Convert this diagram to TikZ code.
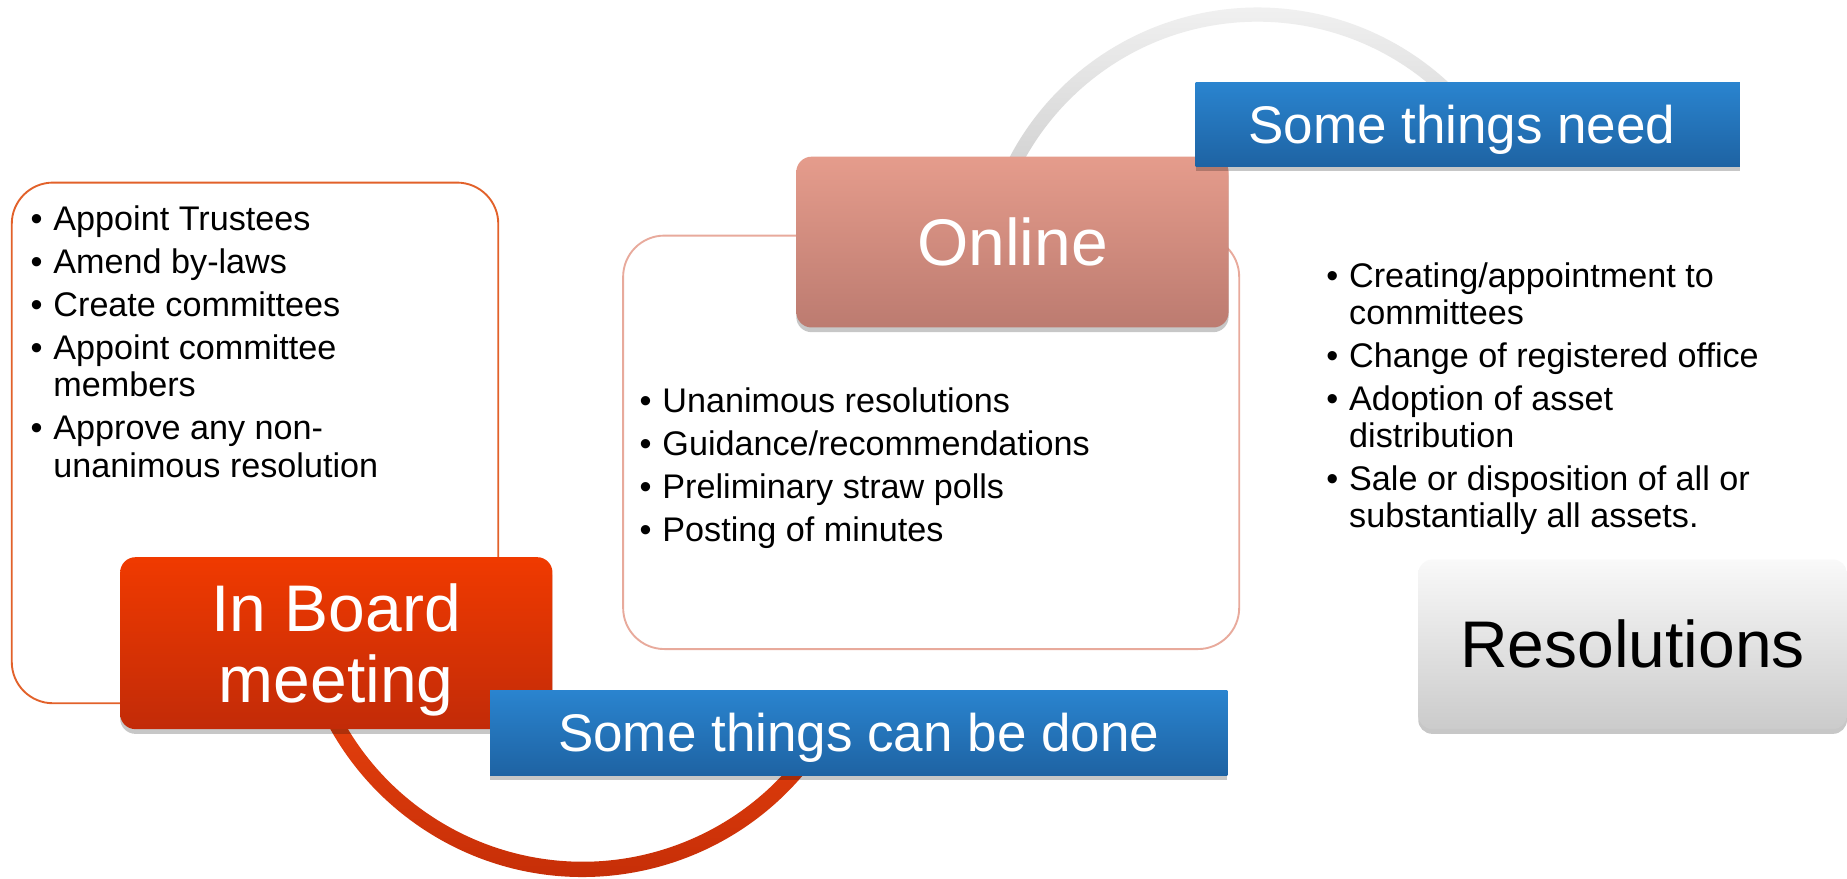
\documentclass[tikz,border=0pt]{standalone}
\usepackage{fontspec}
\setmainfont{Liberation Sans}
\usetikzlibrary{calc,shadows}
\definecolor{frameorange}{HTML}{E2612A}
\definecolor{boardtop}{HTML}{F03A00}
\definecolor{boardbot}{HTML}{C22B08}
\definecolor{onlinetop}{HTML}{E59C8C}
\definecolor{onlinebot}{HTML}{BC7B70}
\definecolor{onlineframe}{HTML}{E8AA9C}
\definecolor{bluetop}{HTML}{2A84CF}
\definecolor{bluebot}{HTML}{1E63A3}
\definecolor{restop}{HTML}{F9F9F9}
\definecolor{resbot}{HTML}{CBCBCB}
\definecolor{arcredtop}{HTML}{E8420E}
\definecolor{arcredbot}{HTML}{BF2A06}
\definecolor{arcgraytop}{HTML}{F7F7F7}
\definecolor{arcgraybot}{HTML}{CDCDCD}
\newcommand{\listfont}{\fontsize{14.5}{15.75}\selectfont\raggedright\setlength{\parskip}{2.5pt}}
\newcommand{\blitem}[1]{\par\hangindent=9.75pt\hangafter=1\noindent\makebox[9.75pt][l]{\textbullet}#1}
\tikzset{
  framebox/.style={rounded corners=17.5pt, fill=white, line width=0.8pt, inner sep=0pt},
  softshadow/.style={drop shadow={shadow xshift=0pt, shadow yshift=-2pt, opacity=0.22, fill=black}},
  bigtext/.style={font=\fontsize{28}{30.5}\selectfont, align=center, inner sep=0pt},
  bluebox/.style={softshadow, top color=bluetop, bottom color=bluebot, text=white,
     font=\fontsize{22.5}{24}\selectfont, inner sep=0pt, text height=16.1pt, text depth=0pt},
  listnode/.style={anchor=base west, inner sep=0pt},
}
\begin{document}
\begin{tikzpicture}[x=0.5pt,y=-0.5pt]
\useasboundingbox (0,0) rectangle (1568,746);
\fill[white] (0,0) rectangle (1568,746);

% outline frames
\node[framebox, draw=frameorange, minimum width=206.5pt, minimum height=221pt] (leftframe) at (216.5,376) {};
\node[framebox, draw=onlineframe, minimum width=261.5pt, minimum height=175.5pt] (onlineframe) at (790.5,375.5) {};

% connecting rings
\coordinate (redc) at (494.6,499);
\coordinate (grayc) at (1067.7,244.4);
\shade[top color=arcredtop, bottom color=arcredbot]
  ($(redc)+(32:245.5)$) arc[start angle=32, end angle=158, radius=245.5]
  -- ($(redc)+(158:232.5)$) arc[start angle=158, end angle=32, radius=232.5] -- cycle;
\shade[top color=arcgraytop, bottom color=arcgraybot]
  ($(grayc)+(200:238)$) arc[start angle=200, end angle=320, radius=238]
  -- ($(grayc)+(320:226)$) arc[start angle=320, end angle=200, radius=226] -- cycle;

% main boxes
\node[bigtext, softshadow, rounded corners=6.5pt, top color=boardtop, bottom color=boardbot, text=white,
      text depth=0pt, minimum width=183.5pt, minimum height=73pt] (boardbox) at (285.5,546) {In Board\\meeting};
\node[bigtext, softshadow, rounded corners=6.5pt, top color=onlinetop, bottom color=onlinebot, text=white,
      minimum width=183.5pt, minimum height=72.5pt] (onlinebox) at (859.5,205.5) {Online};
\node[bigtext, softshadow, rounded corners=6pt, top color=restop, bottom color=resbot, text=black,
      minimum width=182pt, minimum height=72pt] (resbox) at (1386,547) {Resolutions};
\node[bluebox, minimum width=231pt, minimum height=35.5pt] (needbox) at (1246,105.5) {\hspace*{-5pt}Some things need};
\node[bluebox, minimum width=313pt, minimum height=36pt] (donebox) at (729,622) {Some things can be done};

% bullet lists
\node[listnode] (boardlist) at (25.5,196) {\parbox[t]{190pt}{\listfont
  \blitem{Appoint Trustees}
  \blitem{Amend by-laws}
  \blitem{Create committees}
  \blitem{Appoint committee\newline members}
  \blitem{Approve any non-\newline unanimous resolution}}};
\node[listnode] (onlinelist) at (542.5,350.5) {\parbox[t]{230pt}{\listfont
  \blitem{Unanimous resolutions}
  \blitem{Guidance/recommendations}
  \blitem{Preliminary straw polls}
  \blitem{Posting of minutes}}};
\node[listnode] (needlist) at (1125.5,244) {\parbox[t]{210pt}{\listfont
  \blitem{Creating/appointment to\newline committees}
  \blitem{Change of registered office}
  \blitem{Adoption of asset\newline distribution}
  \blitem{Sale or disposition of all or\newline substantially all assets.}}};
\end{tikzpicture}
\end{document}
